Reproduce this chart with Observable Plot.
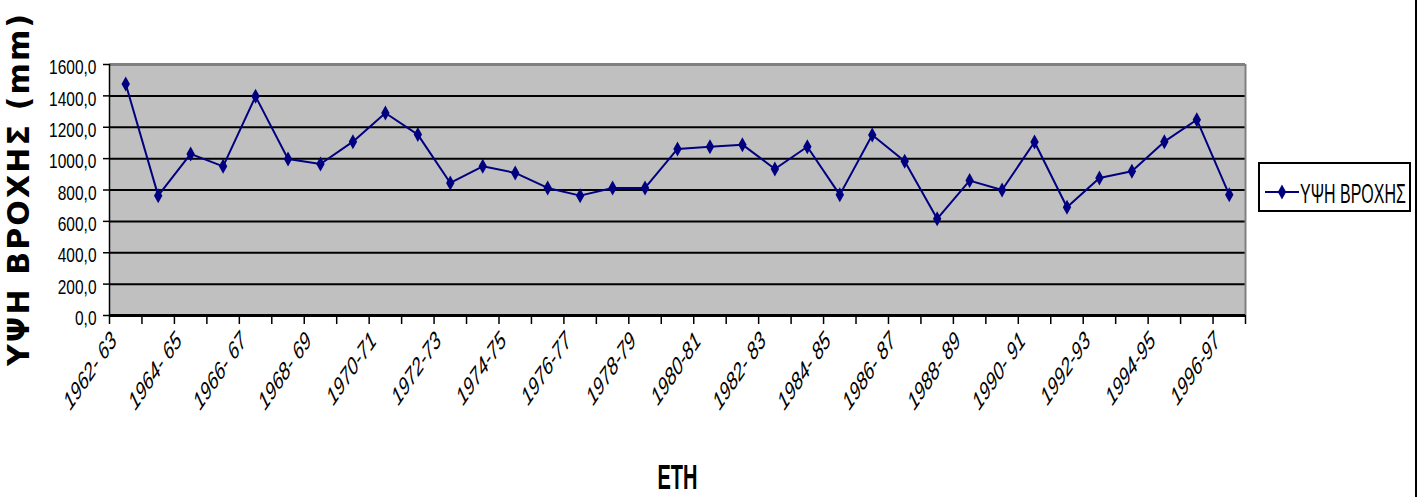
<!DOCTYPE html>
<html>
<head>
<meta charset="utf-8">
<script src="https://cdn.jsdelivr.net/npm/d3@7"></script>
<script src="https://cdn.jsdelivr.net/npm/@observablehq/plot@0.6"></script>
<style>
  body { margin: 0; background: #fff; }
  #chart { position: relative; width: 1422px; height: 497px; overflow: hidden; background: #fff; }
  #chart > svg { display: block; }
  #edge { position: absolute; left: 1415px; top: 0; width: 2px; height: 497px; background: #000; }
  #legend { position: absolute; left: 1258px; top: 162px; }
</style>
</head>
<body>
<div id="chart"></div>
<script>
// Hydrological years (one point per year)
const seasons = [
  "1962- 63", "1963-64", "1964- 65", "1965-66", "1966- 67", "1967-68", "1968- 69", "1969-70",
  "1970-71", "1971-72", "1972-73", "1973-74", "1974-75", "1975-76", "1976-77", "1977-78",
  "1978-79", "1979-80", "1980-81", "1981-82", "1982- 83", "1983-84", "1984- 85", "1985-86",
  "1986- 87", "1987-88", "1988- 89", "1989-90", "1990- 91", "1991-92", "1992-93", "1993-94",
  "1994-95", "1995-96", "1996-97"
];

// Annual rainfall depth (mm)
const rainfall = [
  1476, 764, 1030, 951, 1397, 998, 966, 1108,
  1291, 1153, 845, 951, 909, 813, 764, 813,
  813, 1062, 1076, 1089, 934, 1076, 769, 1151,
  983, 616, 860, 800, 1106, 690, 877, 919,
  1108, 1248, 769
];

const seriesName = "ΥΨΗ ΒΡΟΧΗΣ";
const yTitle = "ΥΨΗ ΒΡΟΧΗΣ (mm)";
const xTitle = "ΕΤΗ";
const yTicks = [0, 200, 400, 600, 800, 1000, 1200, 1400, 1600];

const rows = seasons.map((season, i) => ({i, season, mm: rainfall[i]}));
const labelled = rows.filter(d => d.i % 2 === 0);          // every other year is labelled
const boundaries = d3.range(-0.5, seasons.length, 1);       // tick marks between years
const fmt = d => d.toFixed(1).replace(".", ",");

const sans = "'Liberation Sans', Arial, sans-serif";
const navy = "#000080";

// tall diamond marker
const tallDiamond = {
  draw(ctx) {
    const w = 4.2, h = 7.5;
    ctx.moveTo(0, -h); ctx.lineTo(w, 0); ctx.lineTo(0, h); ctx.lineTo(-w, 0); ctx.closePath();
  }
};

const chart = Plot.plot({
  width: 1422,
  height: 497,
  marginLeft: 109,
  marginRight: 177,
  marginTop: 64,
  marginBottom: 182,
  x: {type: "linear", domain: [-0.5, seasons.length - 0.5], axis: null},
  y: {domain: [0, 1600], axis: null},
  style: {background: "white", fontFamily: sans, color: "#000"},
  marks: [
    Plot.frame({fill: "#c0c0c0", stroke: null}),
    Plot.ruleY(yTicks.filter(d => d > 0 && d < 1600), {stroke: "#000", strokeWidth: 2}),
    Plot.ruleY([1600], {stroke: "#808080", strokeWidth: 3}),
    Plot.ruleX([seasons.length - 0.5], {stroke: "#808080", strokeWidth: 2}),
    Plot.ruleX([-0.5], {stroke: "#000", strokeWidth: 1.5}),
    Plot.axisY({ticks: yTicks, tickSize: 6, tickFormat: () => "", stroke: "#000", strokeWidth: 1.5, label: null}),
    Plot.text(yTicks, {
      y: d => d, text: fmt,
      frameAnchor: "left", textAnchor: "end", dx: -13, dy: 3,
      fontSize: 15.5, fontFamily: sans, fill: "#000"
    }),
    Plot.axisX({ticks: boundaries, tickSize: 9, tickFormat: () => "", stroke: "#000", strokeWidth: 1.5, label: null}),
    Plot.ruleY([0], {stroke: "#000", strokeWidth: 3}),
    Plot.line(rows, {x: "i", y: "mm", stroke: navy, strokeWidth: 2}),
    Plot.dot(rows, {x: "i", y: "mm", symbol: tallDiamond, fill: navy, stroke: "none"}),
    Plot.text(labelled, {
      x: "i", text: "season", frameAnchor: "bottom",
      rotate: -45, textAnchor: "end", dx: -8, dy: 26.5,
      fontSize: 17, fontStyle: "italic", fontFamily: sans, fill: "#000"
    }),
    Plot.text([yTitle], {
      frameAnchor: "left", textAnchor: "middle", dx: -90, rotate: -90,
      fontSize: 30, fontWeight: "bold", fontFamily: "'DejaVu Sans', Verdana, sans-serif",
      fill: "#000"
    }),
    Plot.text([xTitle], {
      frameAnchor: "bottom", textAnchor: "middle", dy: 173,
      fontSize: 24, fontWeight: "bold", fontFamily: sans,
      fill: "#000"
    })
  ]
});

// vertical stretch of a text element about its anchor
function stretch(el, sx, sy) {
  const t = el.getAttribute("transform");
  if (t && /^translate\([^)]*\)/.test(t)) {
    el.setAttribute("transform", t.replace(/^(translate\([^)]*\))/, `$1 scale(${sx},${sy})`));
  } else {
    const x = +el.getAttribute("x") || 0, y = +el.getAttribute("y") || 0;
    el.removeAttribute("x"); el.removeAttribute("y");
    el.setAttribute("transform", `translate(${x},${y}) scale(${sx},${sy})${t ? " " + t : ""}`);
  }
}
const seasonSet = new Set(labelled.map(d => d.season));
const tickSet = new Set(yTicks.map(fmt));
chart.querySelectorAll("text").forEach(el => {
  const s = el.textContent;
  if (seasonSet.has(s)) stretch(el, 1, 1.46);
  else if (tickSet.has(s)) stretch(el, 1, 1.35);
  else if (s === xTitle) {
    el.setAttribute("textLength", 40);
    el.setAttribute("lengthAdjust", "spacingAndGlyphs");
    stretch(el, 1, 1.5);
  } else if (s === yTitle) {
    el.setAttribute("textLength", 352);
    el.setAttribute("lengthAdjust", "spacing");
  }
});

const host = document.getElementById("chart");
host.appendChild(chart);

// legend box on the right
const ns = "http://www.w3.org/2000/svg";
const legend = document.createElementNS(ns, "svg");
legend.setAttribute("id", "legend");
legend.setAttribute("width", 153);
legend.setAttribute("height", 50);
legend.innerHTML = `
  <rect x="1" y="1" width="151" height="48" fill="#fff" stroke="#000" stroke-width="2"/>
  <line x1="7" x2="41" y1="30" y2="30" stroke="${navy}" stroke-width="2"/>
  <path d="M24,22.5L28.2,30L24,37.5L19.8,30Z" fill="${navy}"/>
  <text transform="translate(42,31) scale(1,1.75)" dy="0.35em" font-size="16"
        font-family="Liberation Sans, Arial, sans-serif" fill="#000"></text>`;
legend.querySelector("text").textContent = seriesName;
host.appendChild(legend);

const edge = document.createElement("div");
edge.id = "edge";
host.appendChild(edge);
</script>
</body>
</html>
